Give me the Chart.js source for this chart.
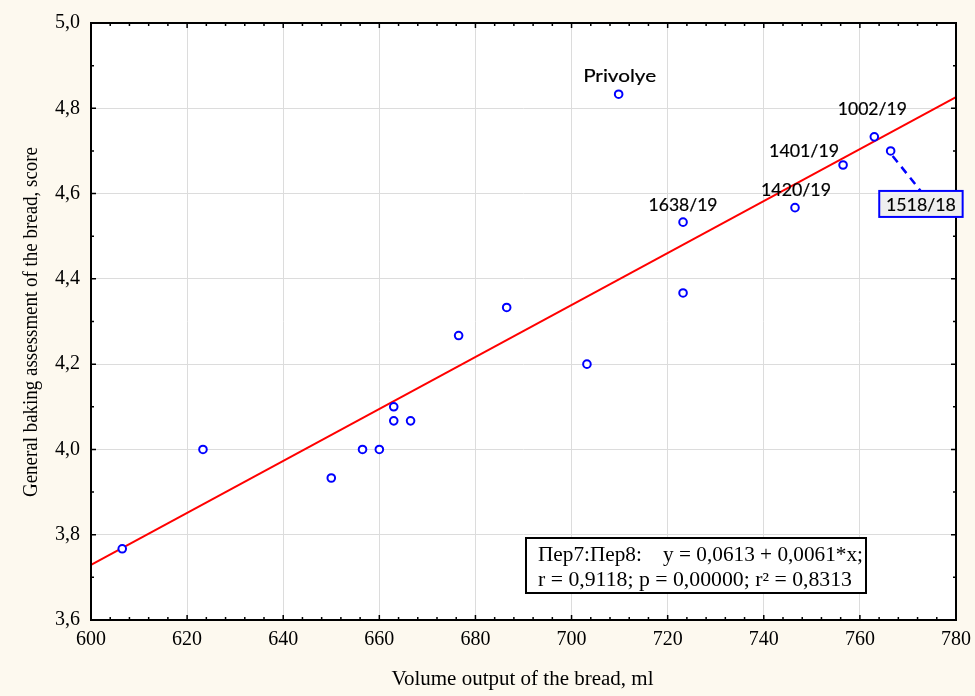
<!DOCTYPE html>
<html><head><meta charset="utf-8">
<script src="https://cdn.jsdelivr.net/npm/chart.js@4/dist/chart.umd.min.js"></script>
<style>html,body{margin:0;padding:0;background:#fdf9ef;}canvas{display:block;}</style>
</head><body>
<canvas id="c" width="975" height="696"></canvas>
<script>
// ---- data ----
const volumeX = [606.5, 623.3, 650.0, 656.5, 660.0, 663.0, 663.0, 666.5, 676.5, 686.5, 703.2, 709.8, 723.2, 723.2, 746.5, 756.5, 763.0, 766.4];
const scoreY  = [3.767, 4.000, 3.933, 4.000, 4.000, 4.100, 4.067, 4.067, 4.267, 4.333, 4.200, 4.833, 4.533, 4.367, 4.567, 4.667, 4.733, 4.700];
const pointNames = ['', '', '', '', '', '', '', '', '', '', '', 'Privolye', '1638/19', '', '1420/19', '1401/19', '1002/19', '1518/18'];
const fitX = [600, 780];
const fitY = [3.729, 4.826];
const xTicks = [600, 620, 640, 660, 680, 700, 720, 740, 760, 780];
const yTicks = [3.6, 3.8, 4.0, 4.2, 4.4, 4.6, 4.8, 5.0];
const xTitle = 'Volume output of the bread, ml';
const yTitle = 'General baking assessment of the bread, score';
const statLines = ['Пер7:Пер8:    y = 0,0613 + 0,0061*x;', 'r = 0,9118; p = 0,00000; r² = 0,8313'];

// ---- styles (positions of annotations relative to their points) ----
const labelStyle = {
  'Privolye': {dx: 1, dy: -12, w: 73},
  '1638/19': {dx: 0, dy: -11.6, w: 69},
  '1420/19': {dx: 1, dy: -11.6, w: 70},
  '1401/19': {dx: -39, dy: -8.3, w: 70},
  '1002/19': {dx: -2, dy: -22, w: 69},
  '1518/18': {box: true, bx: -11.4, by: 40, bw: 83.4, bh: 26, dy: 60, w: 70}
};
const CREAM = '#fdf9ef';
const SERIF = '"Liberation Serif", "Times New Roman", serif';
const SANS = 'Lato, "Open Sans", sans-serif';

function fitText(ctx, text, x, y, w, align, bold) {
  const m = ctx.measureText(text).width;
  const s = w / m;
  ctx.save();
  ctx.translate(x, y);
  ctx.scale(s, 1);
  ctx.textAlign = 'left';
  let ox = 0;
  if (align === 'center') ox = -m / 2;
  else if (align === 'right') ox = -m;
  ctx.fillText(text, ox, 0);
  if (bold) {
    ctx.lineWidth = bold;
    ctx.strokeStyle = ctx.fillStyle;
    ctx.strokeText(text, ox, 0);
  }
  ctx.restore();
}

const bgPlugin = {
  id: 'bg',
  beforeDraw(chart) {
    const {ctx, chartArea: a} = chart;
    ctx.save();
    ctx.fillStyle = CREAM;
    ctx.fillRect(0, 0, chart.width, chart.height);
    ctx.fillStyle = '#ffffff';
    ctx.fillRect(a.left, a.top, a.right - a.left, a.bottom - a.top);
    ctx.restore();
  }
};

const decorPlugin = {
  id: 'decor',
  afterDraw(chart) {
    const {ctx, chartArea: a, scales: {x, y}} = chart;
    ctx.save();
    // frame
    ctx.strokeStyle = '#000';
    ctx.lineWidth = 2;
    ctx.strokeRect(a.left, a.top, a.right - a.left, a.bottom - a.top);
    // inner ticks
    ctx.lineWidth = 1.5;
    ctx.beginPath();
    for (let v = 600; v <= 780; v += 4) {
      const px = x.getPixelForValue(v);
      const L = (v % 20 === 0) ? 5 : 3;
      ctx.moveTo(px, a.bottom); ctx.lineTo(px, a.bottom - L);
      ctx.moveTo(px, a.top); ctx.lineTo(px, a.top + L);
    }
    for (let i = 0; i <= 14; i++) {
      const v = 3.6 + i * 0.1;
      const py = y.getPixelForValue(v);
      const L = (i % 2 === 0) ? 5 : 3;
      ctx.moveTo(a.left, py); ctx.lineTo(a.left + L, py);
      ctx.moveTo(a.right, py); ctx.lineTo(a.right - L, py);
    }
    ctx.stroke();

    // point labels
    ctx.fillStyle = '#000';
    ctx.font = '18px ' + SANS;
    ctx.textBaseline = 'alphabetic';
    pointNames.forEach((name, i) => {
      if (!name) return;
      const st = labelStyle[name];
      const px = x.getPixelForValue(volumeX[i]);
      const py = y.getPixelForValue(scoreY[i]);
      if (st.box) {
        ctx.save();
        ctx.strokeStyle = '#0000ff';
        ctx.lineWidth = 2.5;
        ctx.setLineDash([8, 6]);
        ctx.beginPath();
        ctx.moveTo(px + 2, py + 5);
        ctx.lineTo(px + 30, py + 40);
        ctx.stroke();
        ctx.restore();
        const bx = px + st.bx, by = py + st.by;
        ctx.fillStyle = '#efefef';
        ctx.fillRect(bx, by, st.bw, st.bh);
        ctx.strokeStyle = '#0000ff';
        ctx.lineWidth = 2;
        ctx.setLineDash([]);
        ctx.strokeRect(bx, by, st.bw, st.bh);
        ctx.fillStyle = '#000';
        fitText(ctx, name, bx + st.bw / 2, py + st.dy, st.w, 'center', 0.15);
      } else {
        fitText(ctx, name, px + st.dx, py + st.dy, st.w, 'center', 0.2);
      }
    });

    // statistics box
    ctx.fillStyle = '#ffffff';
    ctx.fillRect(526, 538, 340, 55);
    ctx.strokeStyle = '#000';
    ctx.lineWidth = 2;
    ctx.strokeRect(526, 538, 340, 55);
    ctx.fillStyle = '#000';
    ctx.font = '20px ' + SERIF;
    fitText(ctx, statLines[0], 538, 561, 325, 'left');
    fitText(ctx, statLines[1], 538, 585.5, 314, 'left');

    // axis titles
    ctx.font = '20px ' + SERIF;
    fitText(ctx, xTitle, 522.5, 685, 262, 'center');
    ctx.save();
    ctx.translate(36.5, 322);
    ctx.rotate(-Math.PI / 2);
    fitText(ctx, yTitle, 0, 0, 350, 'center');
    ctx.restore();
    ctx.restore();
  }
};

new Chart(document.getElementById('c'), {
  type: 'scatter',
  data: {
    datasets: [
      {
        type: 'line',
        data: fitX.map((v, i) => ({x: v, y: fitY[i]})),
        borderColor: '#ff0000',
        borderWidth: 2,
        pointRadius: 0,
        fill: false,
        order: 2
      },
      {
        data: volumeX.map((v, i) => ({x: v, y: scoreY[i]})),
        pointRadius: 3.8,
        pointBorderWidth: 2,
        borderColor: '#0000ff',
        backgroundColor: '#ffffff',
        pointBackgroundColor: '#ffffff',
        pointBorderColor: '#0000ff',
        order: 1
      }
    ]
  },
  options: {
    responsive: false,
    animation: false,
    devicePixelRatio: 1,
    layout: {padding: {top: 23, right: 19, left: 0, bottom: 0}},
    plugins: {legend: {display: false}, tooltip: {enabled: false}},
    scales: {
      x: {
        type: 'linear', min: 600, max: 780,
        afterBuildTicks: s => { s.ticks = xTicks.map(v => ({value: v})); },
        afterFit: s => { s.height = 76; s.paddingLeft = 0; s.paddingRight = 0; },
        ticks: {font: {family: SERIF, size: 20}, color: '#000', padding: 8, maxRotation: 0, autoSkip: false,
                callback: v => String(v)},
        grid: {color: '#dcdcdc', lineWidth: 1, drawTicks: false},
        border: {display: false}
      },
      y: {
        type: 'linear', min: 3.6, max: 5.0,
        afterBuildTicks: s => { s.ticks = yTicks.map(v => ({value: v})); },
        afterFit: s => { s.width = 91; s.paddingTop = 0; s.paddingBottom = 0; },
        ticks: {font: {family: SERIF, size: 20}, color: '#000', padding: 11, autoSkip: false,
                callback: v => Number(v).toFixed(1).replace('.', ',')},
        grid: {color: '#dcdcdc', lineWidth: 1, drawTicks: false},
        border: {display: false}
      }
    }
  },
  plugins: [bgPlugin, decorPlugin]
});
</script>
</body></html>
